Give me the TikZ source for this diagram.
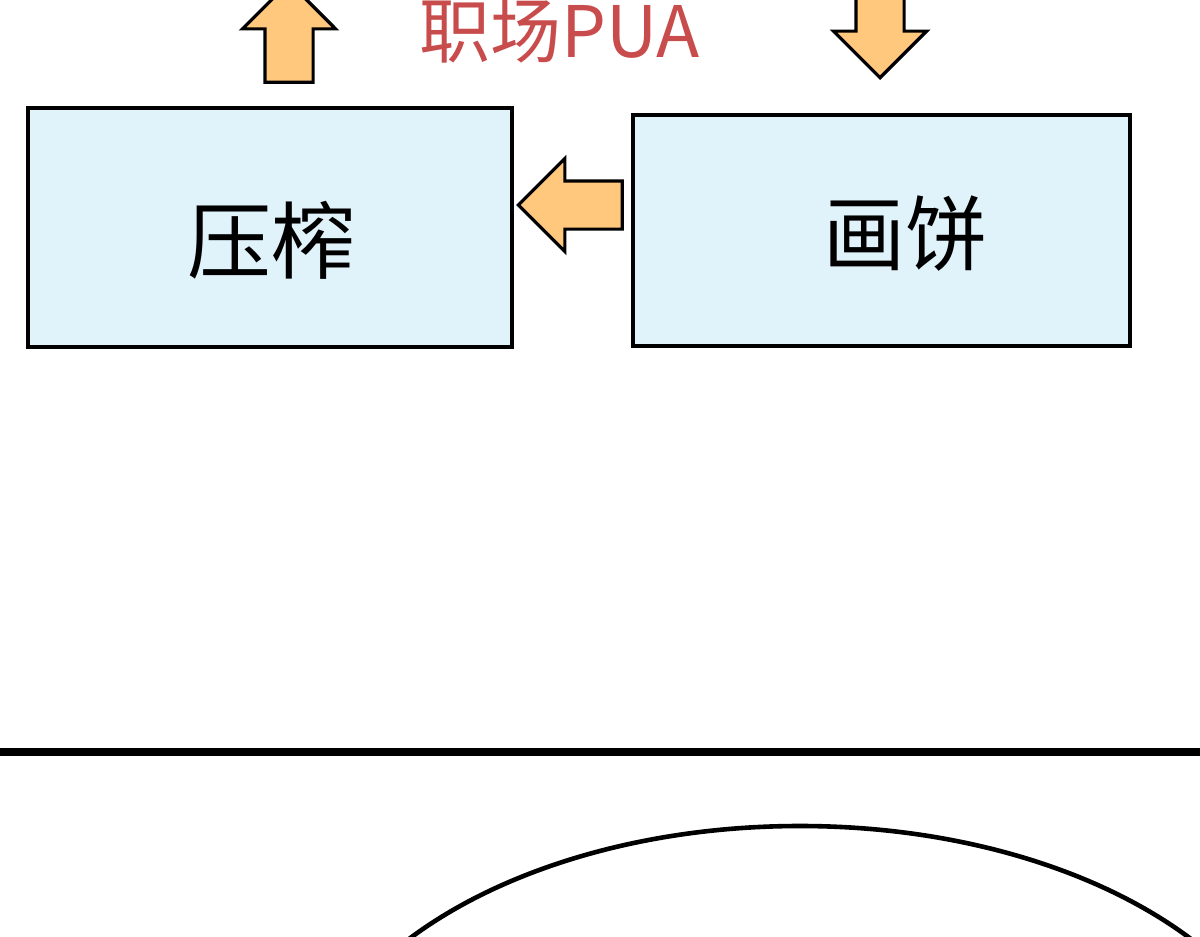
\documentclass[tikz,border=0pt]{standalone}
\usepackage{fontspec}
\newfontfamily\cjk{Noto Sans CJK SC}
\usetikzlibrary{shapes.arrows,positioning}
\definecolor{boxblue}{RGB}{224,242,250}
\definecolor{arroworange}{RGB}{255,200,125}
\definecolor{puared}{RGB}{200,76,76}
\tikzset{box/.style={draw=black,line width=3.4pt,fill=boxblue,inner sep=0pt}}
\tikzset{boxtext/.style={font=\cjk\fontsize{84}{84}\selectfont,inner sep=0pt}}
\tikzset{blockarrow/.style={single arrow,draw=black,line width=3.2pt,fill=arroworange,
    single arrow head extend=22.5,inner sep=22.5,line join=miter,anchor=tip}}
\begin{document}
\begin{tikzpicture}[x=1pt,y=-1pt]
        \useasboundingbox (0,0) rectangle (1200,937);
        \fill[white] (0,0) rectangle (1200,937);
        \clip (0,0) rectangle (1200,937);
        \node(press)[box,minimum width=484,minimum height=239] at (270,227.5){};
        \node(cake)[box,minimum width=497,minimum height=231] at (881.5,230.5){};
        \node(pressText)[boxtext] at ([xshift=1,yshift=-13]press.center){压榨};
        \node(cakeText)[boxtext,font=\cjk\fontsize{82}{82}\selectfont] at ([xshift=24,yshift=-3]cake.center){画饼};
        \node(pua)[font=\cjk\fontsize{71}{71}\selectfont,text=puared,inner sep=0pt,anchor=base,
          text height=0.78em] at (560,57){职场PUA};
        \node(up)[blockarrow,shape border rotate=90,minimum height=100] at (289,-20){};
        \node(down)[blockarrow,shape border rotate=270,minimum height=100] at (880,80){};
        \node(back)[blockarrow,shape border rotate=180,minimum height=104] at (516,205){};
        % floor line and the big curve below it
        \draw[line width=8pt] (0,752) -- (1200,752);
        \draw[line width=4.6pt] (800,1126) ellipse [x radius=500,y radius=300];
      \end{tikzpicture}
\end{document}
